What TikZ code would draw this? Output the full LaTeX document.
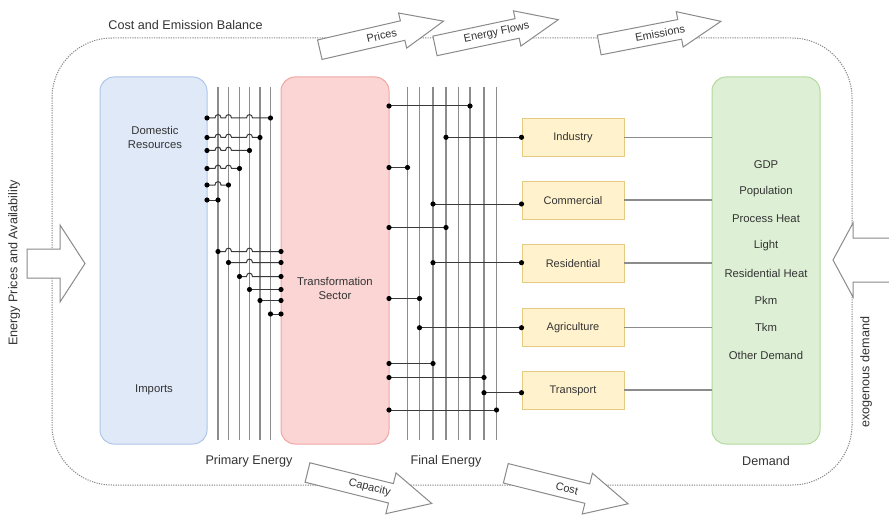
\documentclass[tikz,border=0pt]{standalone}
\usepackage{fontspec}
\setmainfont{Liberation Sans}
\usetikzlibrary{calc}
\definecolor{txt}{HTML}{333333}
\definecolor{bluefill}{HTML}{DFE9F8}
\definecolor{bluedraw}{HTML}{AFC6EA}
\definecolor{redfill}{HTML}{FAD5D3}
\definecolor{reddraw}{HTML}{EFA7A4}
\definecolor{greenfill}{HTML}{DDF0D5}
\definecolor{greendraw}{HTML}{B3D99E}
\definecolor{yelfill}{HTML}{FFF2CC}
\definecolor{yeldraw}{HTML}{E5CB80}
\definecolor{busgray}{HTML}{8C8C8C}
\definecolor{conngray}{HTML}{3A3A3A}
\definecolor{arrowgray}{HTML}{8A8A8A}
\definecolor{dotgray}{HTML}{858585}
% #1 name, #2 x, #3 y (tail centre), #4 angle, #5 length, #6 head half width, #7 label
\newcommand\flowarrow[7]{%
  \begin{scope}[shift={(#2,#3)},rotate=#4]
    \draw[arrowline] (0,-10) -- (#5-42,-10) -- (#5-42,-#6) -- (#5,0) -- (#5-42,#6) -- (#5-42,10) -- (0,10) -- cycle;
    \node[arrowlabel,rotate=#4] (#1) at (#5/2,0) {#7};
  \end{scope}}
\begin{document}
\begin{tikzpicture}[x=1pt,y=-1pt,
  bigbox/.style={line width=1pt, rounded corners=14pt, minimum width=108pt, minimum height=367pt, inner sep=0pt},
  sector/.style={draw=yeldraw, fill=yelfill, line width=1pt, minimum width=102pt, minimum height=38pt, inner sep=0pt, font=\fontsize{11}{13}\selectfont, text=txt},
  lbl/.style={font=\fontsize{12.6}{15}\selectfont, text=txt, inner sep=0pt},
  inlbl/.style={font=\fontsize{11.3}{14}\selectfont, text=txt, inner sep=0pt, align=center},
  bus/.style={draw=busgray, line width=1.2pt},
  conn/.style={draw=conngray, line width=1pt},
  link/.style={draw=busgray, line width=1.2pt},
  arrowline/.style={draw=arrowgray, fill=white, line width=1pt, line join=miter},
  arrowlabel/.style={font=\fontsize{11}{13}\selectfont, text=txt, inner sep=0pt},
  border/.style={draw=dotgray, dash pattern=on 1.2pt off 1.2pt, line width=1pt, rounded corners=60pt}
]
\useasboundingbox (0,0) rectangle (889,516);
\fill[white] (0,0) rectangle (889,516);

% outer balance frame
\draw[border] (52,38) rectangle (852,485);
\node[lbl] (balance) at (185.5,25) {Cost and Emission Balance};

% main boxes
\node[bigbox, draw=bluedraw, fill=bluefill, minimum width=107pt] (dom) at (153.5,260.5) {};
\node[bigbox, draw=reddraw, fill=redfill] (trans) at (335,260.5) {};
\node[bigbox, draw=greendraw, fill=greenfill] (dem) at (766,260.5) {};

\node[inlbl] (domres) at (155,137) {Domestic\\Resources};
\node[inlbl] (imp) at (154,390) {Imports};
\node[inlbl] (trsec) at (335,288) {Transformation\\Sector};

\foreach \n/\t/\y in {d1/GDP/165, d2/Population/192, d3/Process Heat/219, d4/Light/246,
  d5/Residential Heat/273, d6/Pkm/300, d7/Tkm/327, d8/Other Demand/355}
  \node[inlbl] (\n) at (766,\y) {\t};

% sectors
\node[sector] (ind) at (573,137.5) {Industry};
\node[sector] (com) at (573,200.8) {Commercial};
\node[sector] (res) at (573,263.3) {Residential};
\node[sector] (agr) at (573,327.5) {Agriculture};
\node[sector] (tra) at (573,390.8) {Transport};

% sector -> demand
\coordinate (e1) at (624,137.3);
\coordinate (e2) at (624,200);
\coordinate (e3) at (624,263);
\coordinate (e4) at (624,327.3);
\coordinate (e5) at (624,390);
\foreach \e in {e1,e2,e3,e4,e5}
  \draw[link] (\e) -- (\e -| dem.west);

% bus lines
\foreach \i/\x in {1/218, 2/228.5, 3/239.5, 4/249.5, 5/260, 6/270.5} {
  \coordinate (v\i) at (\x,87); \coordinate (vb\i) at (\x,440);
  \draw[bus] (v\i) -- (vb\i);
}
\foreach \i/\x in {1/407.5, 2/419.5, 3/433, 4/446, 5/458.5, 6/470, 7/484, 8/496.5} {
  \coordinate (w\i) at (\x,87); \coordinate (wb\i) at (\x,440);
  \draw[bus] (w\i) -- (wb\i);
}

% primary energy: resources -> bus
\coordinate (ua1) at (207,118);   \coordinate (ub1) at (v6 |- ua1);
\coordinate (ua2) at (207,137.5); \coordinate (ub2) at (v5 |- ua2);
\coordinate (ua3) at (207,150.5); \coordinate (ub3) at (v4 |- ua3);
\coordinate (ua4) at (207,168.5); \coordinate (ub4) at (v3 |- ua4);
\coordinate (ua5) at (207,185);   \coordinate (ub5) at (v2 |- ua5);
\coordinate (ua6) at (207,200);   \coordinate (ub6) at (v1 |- ua6);
\draw[conn] (ua1) \foreach \k in {1,2,4}{ -- ($(v\k |- ua1)+(-3,0)$) .. controls +(0,-4.5) and +(0,-4.5) .. ($(v\k |- ua1)+(3,0)$) } -- (ub1);
\draw[conn] (ua2) \foreach \k in {1,2,4}{ -- ($(v\k |- ua2)+(-3,0)$) .. controls +(0,-4.5) and +(0,-4.5) .. ($(v\k |- ua2)+(3,0)$) } -- (ub2);
\draw[conn] (ua3) \foreach \k in {1,2}{ -- ($(v\k |- ua3)+(-3,0)$) .. controls +(0,-4.5) and +(0,-4.5) .. ($(v\k |- ua3)+(3,0)$) } -- (ub3);
\draw[conn] (ua4) \foreach \k in {1,2}{ -- ($(v\k |- ua4)+(-3,0)$) .. controls +(0,-4.5) and +(0,-4.5) .. ($(v\k |- ua4)+(3,0)$) } -- (ub4);
\draw[conn] (ua5) \foreach \k in {1}{ -- ($(v\k |- ua5)+(-3,0)$) .. controls +(0,-4.5) and +(0,-4.5) .. ($(v\k |- ua5)+(3,0)$) } -- (ub5);
\draw[conn] (ua6) -- (ub6);

% primary energy: bus -> transformation
\coordinate (la1) at (v1 |- 0,251.5); \coordinate (lb1) at (281,251.5);
\coordinate (la2) at (v2 |- 0,262.5); \coordinate (lb2) at (281,262.5);
\coordinate (la3) at (v3 |- 0,276.5); \coordinate (lb3) at (281,276.5);
\coordinate (la4) at (v4 |- 0,289.5); \coordinate (lb4) at (281,289.5);
\coordinate (la5) at (v5 |- 0,300.5); \coordinate (lb5) at (281,300.5);
\coordinate (la6) at (v6 |- 0,314);   \coordinate (lb6) at (281,314);
\draw[conn] (la1) \foreach \k in {2,4}{ -- ($(v\k |- la1)+(-3,0)$) .. controls +(0,-4.5) and +(0,-4.5) .. ($(v\k |- la1)+(3,0)$) } -- (lb1);
\draw[conn] (la2) \foreach \k in {4}{ -- ($(v\k |- la2)+(-3,0)$) .. controls +(0,-4.5) and +(0,-4.5) .. ($(v\k |- la2)+(3,0)$) } -- (lb2);
\draw[conn] (la3) \foreach \k in {4}{ -- ($(v\k |- la3)+(-3,0)$) .. controls +(0,-4.5) and +(0,-4.5) .. ($(v\k |- la3)+(3,0)$) } -- (lb3);
\draw[conn] (la4) -- (lb4);
\draw[conn] (la5) -- (lb5);
\draw[conn] (la6) -- (lb6);

% final energy: transformation -> bus
\coordinate (fa1) at (389,106);   \coordinate (fb1) at (w6 |- fa1);
\coordinate (fa2) at (389,167.5); \coordinate (fb2) at (w1 |- fa2);
\coordinate (fa3) at (389,227.5); \coordinate (fb3) at (w4 |- fa3);
\coordinate (fa4) at (389,298.5); \coordinate (fb4) at (w2 |- fa4);
\coordinate (fa5) at (389,363.5); \coordinate (fb5) at (w3 |- fa5);
\coordinate (fa6) at (389,377.5); \coordinate (fb6) at (w7 |- fa6);
\coordinate (fa7) at (389,410);   \coordinate (fb7) at (w8 |- fa7);
\foreach \i in {1,...,7} \draw[conn] (fa\i) -- (fb\i);

% final energy: bus -> sectors
\coordinate (ga1) at (w4 |- 0,137.3); \coordinate (gb1) at (ind.west |- ga1);
\coordinate (ga2) at (w3 |- 0,204);   \coordinate (gb2) at (com.west |- ga2);
\coordinate (ga3) at (w3 |- 0,262.7); \coordinate (gb3) at (res.west |- ga3);
\coordinate (ga4) at (w2 |- 0,327.7); \coordinate (gb4) at (agr.west |- ga4);
\coordinate (ga5) at (w7 |- 0,392.7); \coordinate (gb5) at (tra.west |- ga5);
\foreach \i in {1,...,5} \draw[conn] (ga\i) -- (gb\i);

% junction dots
\foreach \i in {1,...,6} \fill (ua\i) circle (2.6pt) (ub\i) circle (2.6pt) (la\i) circle (2.6pt) (lb\i) circle (2.6pt);
\foreach \i in {1,...,7} \fill (fa\i) circle (2.6pt) (fb\i) circle (2.6pt);
\foreach \i in {1,...,5} \fill (ga\i) circle (2.6pt) (gb\i) circle (2.6pt);

% stage labels
\node[lbl] (prim) at (249,461) {Primary Energy};
\node[lbl] (fin) at (446,461) {Final Energy};
\node[lbl] (demlbl) at (766,461) {Demand};

% flow arrows
\flowarrow{aprices}{319.8}{49.7}{13}{127}{18}{Prices}
\flowarrow{aflows}{435}{45.9}{12}{126}{18}{Energy Flows}
\flowarrow{aemis}{599.2}{45}{11}{124}{18}{Emissions}
\flowarrow{acap}{307.5}{472.5}{-14}{128}{21}{Capacity}
\flowarrow{acost}{505.8}{473.3}{-14}{126}{21}{Cost}

% side arrows
\draw[arrowline] (27,249) -- (60,249) -- (60,225) -- (85,263.5) -- (60,302) -- (60,278) -- (27,278) -- cycle;
\draw[arrowline] (889.6,238) -- (853,238) -- (853,223) -- (833,260) -- (853,297) -- (853,282) -- (889.6,282);
\node[lbl, rotate=90] (prices) at (14,263) {Energy Prices and Availability};
\node[lbl, rotate=90] (exo) at (866,372) {exogenous demand};
\end{tikzpicture}
\end{document}
